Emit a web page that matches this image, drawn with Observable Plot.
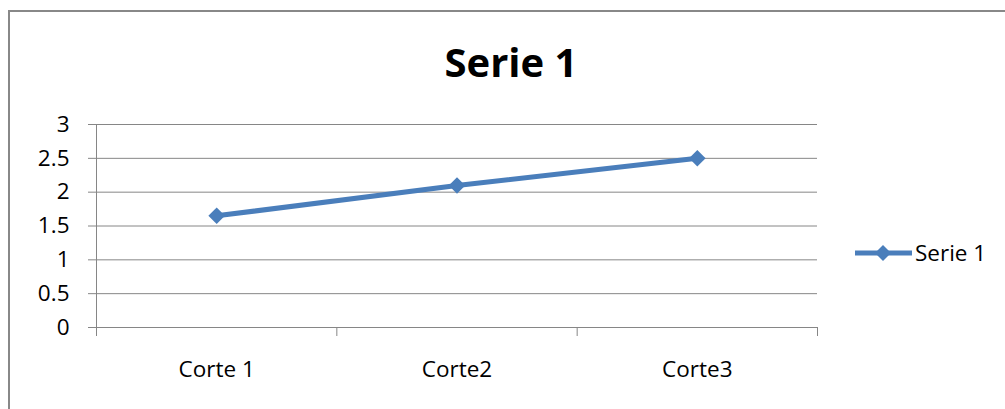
<!DOCTYPE html>
<html>
<head>
<meta charset="utf-8">
<script src="https://cdn.jsdelivr.net/npm/d3@7"></script>
<script src="https://cdn.jsdelivr.net/npm/@observablehq/plot@0.6"></script>
<style>
  html, body { margin: 0; padding: 0; background: #fff; }
  #wrap { position: relative; width: 1005px; height: 409px; overflow: hidden; font-family: "Open Sans", sans-serif; }
  #frame { position: absolute; left: 8px; top: 10px; width: 1020px; height: 430px; border: 2px solid #888; box-sizing: border-box; }
  #chart { position: absolute; left: 0; top: 0; }
  #title { position: absolute; left: 0; width: 1022px; top: 41.5px; text-align: center; font-size: 40px; line-height: 40px; font-weight: 700; color: #000; }
  #legend { position: absolute; left: 855px; top: 238px; height: 30px; display: flex; align-items: center; font-size: 22.5px; line-height: 30px; color: #000; }
  #legend svg { display: block; margin-right: 3px; }
</style>
</head>
<body>
<div id="wrap">
  <div id="frame"></div>
  <div id="chart"></div>
  <div id="title">Serie 1</div>
  <div id="legend"></div>
</div>
<script>
const categories = ["Corte 1", "Corte2", "Corte3"];
const seriesName = "Serie 1";
const values = [1.65, 2.1, 2.5];
const yTicks = [0, 0.5, 1, 1.5, 2, 2.5, 3];
const yTickLabels = ["0", "0.5", "1", "1.5", "2", "2.5", "3"];

const lineColor = "#4A7EBB";
const gridColor = "#868686";

const data = categories.map((c, i) => ({cat: c, pos: i + 0.5, value: values[i]}));
const boundaries = d3.range(categories.length + 1);
const centers = categories.map((c, i) => i + 0.5);

const plot = Plot.plot({
  width: 1005,
  height: 409,
  marginLeft: 96,
  marginRight: 188,
  marginTop: 124,
  marginBottom: 82,
  style: {fontFamily: "'Open Sans', sans-serif", background: "transparent"},
  x: {type: "linear", domain: [0, categories.length], label: null},
  y: {domain: [0, 3], label: null},
  marks: [
    Plot.ruleY(yTicks, {stroke: gridColor, strokeWidth: 1}),
    Plot.ruleX([0], {stroke: gridColor, strokeWidth: 1}),
    Plot.axisY({
      ticks: yTicks, tickSize: 8, tickPadding: 19, fontSize: 22.5,
      tickFormat: d => yTickLabels[yTicks.indexOf(d)],
      stroke: gridColor, fill: "#000", label: null
    }),
    Plot.axisX({
      ticks: boundaries, tickSize: 9, tickFormat: () => "",
      stroke: gridColor, label: null
    }),
    Plot.axisX({
      ticks: centers, tickSize: 0, tickPadding: 34, fontSize: 22.5,
      tickFormat: d => categories[Math.floor(d)],
      fill: "#000", label: null
    }),
    Plot.line(data, {x: "pos", y: "value", stroke: lineColor, strokeWidth: 5}),
    Plot.dot(data, {x: "pos", y: "value", symbol: "square", r: 6.6, rotate: 45, fill: lineColor, stroke: "none"})
  ]
});
document.getElementById("chart").appendChild(plot);

// legend
const leg = document.getElementById("legend");
const sw = d3.create("svg").attr("width", 57).attr("height", 30);
sw.append("line").attr("x1", 0).attr("x2", 57).attr("y1", 15).attr("y2", 15)
  .attr("stroke", lineColor).attr("stroke-width", 5);
sw.append("path").attr("d", d3.symbol(d3.symbolSquare, 128)())
  .attr("transform", "translate(28,15) rotate(45)").attr("fill", lineColor);
leg.appendChild(sw.node());
const span = document.createElement("span");
span.textContent = seriesName;
leg.appendChild(span);
</script>
</body>
</html>
